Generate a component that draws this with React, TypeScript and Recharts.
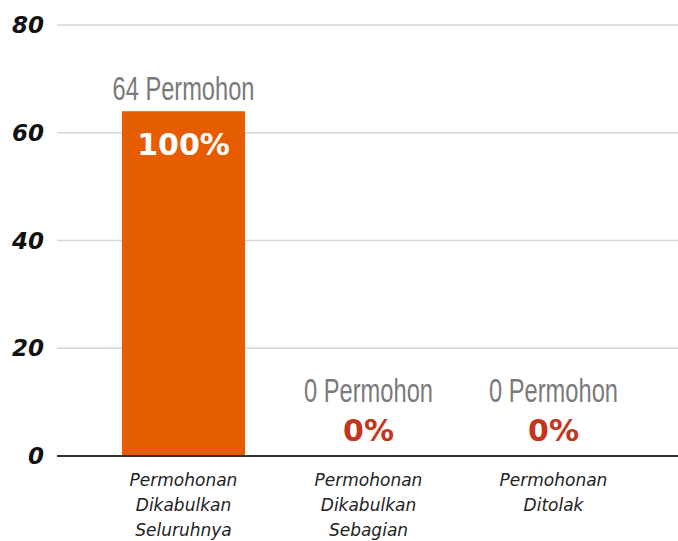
import React from "react";
import { BarChart, Bar, XAxis, YAxis, CartesianGrid, LabelList, Cell } from "recharts";

const categories = [
  ["Permohonan", "Dikabulkan", "Seluruhnya"],
  ["Permohonan", "Dikabulkan", "Sebagian"],
  ["Permohonan", "Ditolak"],
];
const counts = [64, 0, 0];
const percents = ["100%", "0%", "0%"];
const yTicks = [0, 20, 40, 60, 80];

const data = categories.map((c, i) => ({
  name: c.join(" "),
  value: counts[i],
  pct: percents[i],
}));

const XTick = (props: any) => {
  const { x, y, index } = props;
  const lines = categories[index] || [];
  return (
    <text
      x={x}
      y={y}
      textAnchor="middle"
      fill="#222"
      fontFamily="'DejaVu Sans', sans-serif"
      fontStyle="italic"
      fontSize={17}
    >
      {lines.map((l, i) => (
        <tspan key={i} x={x} y={y + 22 + i * 25}>
          {l}
        </tspan>
      ))}
    </text>
  );
};

const BarLabel = (props: any) => {
  const { x, width, index } = props;
  const v = counts[index];
  const cx = x + width / 2;
  const y = v > 0 ? props.y : props.y + props.height;
  const countText = `${v} Permohon`;
  const countY = v > 0 ? y - 11 : y - 54;
  const pctY = v > 0 ? y + 44 : y - 15;
  return (
    <g>
      <text
        x={cx}
        y={countY}
        textAnchor="middle"
        fill="#7a7a7a"
        fontFamily="'Liberation Sans', sans-serif"
        fontSize={33}
        textLength={countText.length * 12.9}
        lengthAdjust="spacingAndGlyphs"
      >
        {countText}
      </text>
      <text
        x={cx}
        y={pctY}
        textAnchor="middle"
        fill={v > 0 ? "#ffffff" : "#c4361c"}
        fontFamily="'DejaVu Sans', sans-serif"
        fontWeight="bold"
        fontSize={30}
      >
        {percents[index]}
      </text>
    </g>
  );
};

export default function App() {
  return (
    <div style={{ position: "absolute", left: 0, top: 0, width: 678, height: 541, background: "#fff" }}>
      <BarChart
        width={678}
        height={541}
        data={data}
        margin={{ top: 25, right: 0, bottom: 0, left: 0 }}
      >
        <CartesianGrid vertical={false} stroke="#d6d6d6" strokeWidth={1.5} />
        <XAxis
          dataKey="name"
          height={85}
          tick={<XTick />}
          tickLine={false}
          axisLine={{ stroke: "#333", strokeWidth: 2 }}
          padding={{ left: 34, right: 32 }}
          interval={0}
        />
        <YAxis
          width={57}
          domain={[0, 80]}
          ticks={yTicks}
          tickLine={false}
          axisLine={false}
          tickSize={0}
          tickMargin={13}
          tick={{
            fill: "#111",
            fontSize: 23,
            fontWeight: "bold",
            fontStyle: "italic",
            fontFamily: "'DejaVu Sans', sans-serif",
          }}
        />
        <Bar dataKey="value" fill="#e65c00" barSize={123} minPointSize={1} isAnimationActive={false}>
          {counts.map((v, i) => (
            <Cell key={i} fill={v > 0 ? "#e65c00" : "rgba(0,0,0,0)"} />
          ))}
          <LabelList dataKey="value" content={<BarLabel />} />
        </Bar>
      </BarChart>
    </div>
  );
}
